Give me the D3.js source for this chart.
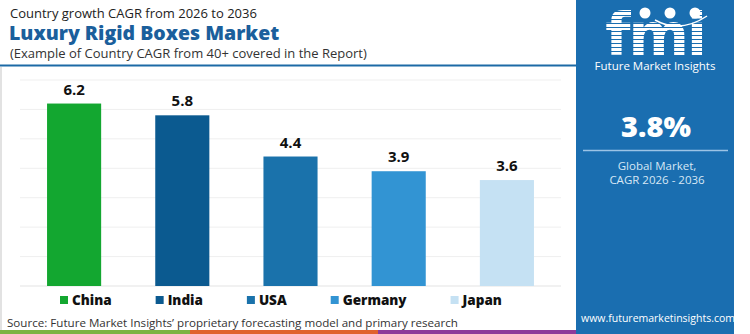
<!DOCTYPE html>
<html>
<head>
<meta charset="utf-8">
<script src="https://cdn.jsdelivr.net/npm/d3@7"></script>
<style>
  body { margin: 0; background: #fff; }
  svg { display: block; font-family: "Open Sans", sans-serif; }
</style>
</head>
<body>
<svg id="chart" width="750" height="334"></svg>
<script>
// data
var countries = ["China", "India", "USA", "Germany", "Japan"];
var cagr = [6.2, 5.8, 4.4, 3.9, 3.6];
var barColors = ["#13a730", "#0b5a90", "#1a72ab", "#3294d3", "#c5e1f3"];
var yTicks = [0, 1, 2, 3, 4, 5, 6, 7];
var stripColors = ["#7cb342", "#e0622d", "#8e3b9a"];
var stripBreaks = [0, 190, 378, 576];
var globalCagr = "3.8%";

var svg = d3.select("#chart");
var data = countries.map(function (c, i) { return { country: c, value: cagr[i], color: barColors[i] }; });

var x = d3.scaleBand()
  .domain(countries)
  .range([20, 561])
  .paddingInner(0.5)
  .paddingOuter(0.25);

var y = d3.scaleLinear()
  .domain([0, 7])
  .range([286, 80]);

// left border
svg.append("line")
  .attr("x1", 1).attr("x2", 1)
  .attr("y1", 67).attr("y2", 330)
  .style("stroke", "#e2e2e2").style("stroke-width", 2);

// headings
svg.append("text")
  .attr("x", 10).attr("y", 18)
  .style("font-size", "13px").style("fill", "#222")
  .text("Country growth CAGR from 2026 to 2036");

svg.append("text")
  .attr("x", 9).attr("y", 40)
  .style("font-size", "19.5px").style("font-weight", "800").style("fill", "#1b5f9c")
  .text("Luxury Rigid Boxes Market");

svg.append("text")
  .attr("x", 10).attr("y", 57.5)
  .style("font-size", "13px").style("fill", "#333")
  .text("(Example of Country CAGR from 40+ covered in the Report)");

svg.append("line")
  .attr("x1", 0).attr("x2", 576)
  .attr("y1", 65.5).attr("y2", 65.5)
  .style("stroke", "#1c6aa6").style("stroke-width", 2);

// gridlines
svg.append("g")
  .selectAll("line")
  .data(yTicks)
  .join("line")
  .attr("x1", 20).attr("x2", 561)
  .attr("y1", function (d) { return y(d); })
  .attr("y2", function (d) { return y(d); })
  .style("stroke", function (d) { return d === 0 ? "#e3e3e3" : "#efefef"; })
  .style("stroke-width", 1);

// bars
svg.append("g")
  .selectAll("rect")
  .data(data)
  .join("rect")
  .attr("x", function (d) { return x(d.country); })
  .attr("width", x.bandwidth())
  .attr("y", function (d) { return y(d.value); })
  .attr("height", function (d) { return y(0) - y(d.value); })
  .style("fill", function (d) { return d.color; });

// value labels
svg.append("g")
  .selectAll("text")
  .data(data)
  .join("text")
  .attr("x", function (d) { return x(d.country) + x.bandwidth() / 2; })
  .attr("y", function (d) { return y(d.value) - 9; })
  .attr("text-anchor", "middle")
  .style("font-size", "15px").style("font-weight", "700").style("fill", "#111")
  .text(function (d) { return d.value.toFixed(1); });

// legend
var legend = svg.append("g");
var lx = 60;
data.forEach(function (d) {
  legend.append("rect")
    .attr("x", lx).attr("y", 296)
    .attr("width", 8).attr("height", 8)
    .style("fill", d.color);
  var t = legend.append("text")
    .attr("x", lx + 12).attr("y", 305)
    .style("font-size", "13.5px").style("font-weight", "800").style("fill", "#111")
    .text(d.country);
  lx += 12 + t.node().getComputedTextLength() + 44;
});

// source
svg.append("text")
  .attr("x", 7).attr("y", 326.5)
  .style("font-size", "11.6px").style("fill", "#333")
  .text("Source: Future Market Insights\u2019 proprietary forecasting model and primary research");

// bottom strip
svg.append("g")
  .selectAll("rect")
  .data(stripColors)
  .join("rect")
  .attr("x", function (d, i) { return stripBreaks[i]; })
  .attr("width", function (d, i) { return stripBreaks[i + 1] - stripBreaks[i]; })
  .attr("y", 330).attr("height", 4)
  .style("fill", function (d) { return d; });

// right panel
var panel = svg.append("g");
panel.append("rect")
  .attr("x", 576).attr("y", 0)
  .attr("width", 158).attr("height", 334)
  .style("fill", "#1a6eb0");

// logo: striped "fmi"
var defs = svg.append("defs");
var pat = defs.append("pattern")
  .attr("id", "stripes")
  .attr("patternUnits", "userSpaceOnUse")
  .attr("width", 10).attr("height", 4);
pat.append("rect").attr("width", 10).attr("height", 4).style("fill", "#1a6eb0");
pat.append("rect").attr("width", 10).attr("height", 3).style("fill", "#ffffff");

panel.append("text")
  .attr("x", 655).attr("y", 55)
  .attr("text-anchor", "middle")
  .style("font-size", "58px").style("font-weight", "800")
  .style("font-family", "'DejaVu Sans', sans-serif")
  .style("letter-spacing", "-2px")
  .style("fill", "url(#stripes)")
  .text("fmi");

[645, 670, 695].forEach(function (cx) {
  panel.append("circle")
    .attr("cx", cx).attr("cy", 13).attr("r", 5.5)
    .style("fill", "#fff");
});
panel.append("path")
  .attr("d", "M655,20 Q680,34 707,16")
  .style("fill", "none").style("stroke", "#fff").style("stroke-width", 1.5);

panel.append("text")
  .attr("x", 655).attr("y", 70)
  .attr("text-anchor", "middle")
  .style("font-size", "11.5px").style("fill", "#fff")
  .text("Future Market Insights");

panel.append("text")
  .attr("x", 656).attr("y", 137)
  .attr("text-anchor", "middle")
  .style("font-size", "29px").style("font-weight", "800").style("fill", "#fff")
  .text(globalCagr);

panel.append("line")
  .attr("x1", 583).attr("x2", 728)
  .attr("y1", 150.5).attr("y2", 150.5)
  .style("stroke", "#9cc4e6").style("stroke-width", 1.5);

panel.append("text")
  .attr("x", 657).attr("y", 170)
  .attr("text-anchor", "middle")
  .style("font-size", "11.5px").style("fill", "#d6e7f5")
  .text("Global Market,");

panel.append("text")
  .attr("x", 657).attr("y", 184)
  .attr("text-anchor", "middle")
  .style("font-size", "11.5px").style("fill", "#d6e7f5")
  .text("CAGR 2026 - 2036");

panel.append("text")
  .attr("x", 658).attr("y", 322)
  .attr("text-anchor", "middle")
  .style("font-size", "10.5px").style("fill", "#fff")
  .text("www.futuremarketinsights.com");
</script>
</body>
</html>
